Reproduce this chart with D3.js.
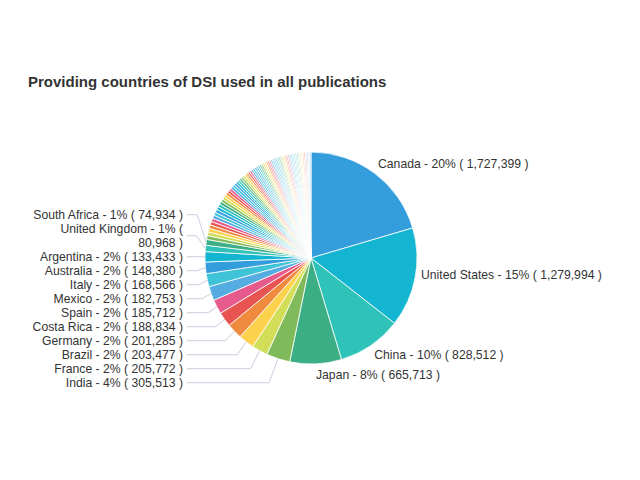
<!DOCTYPE html>
<html lang="en">
<head>
<meta charset="UTF-8">
<title>Providing countries of DSI</title>
<script src="https://cdn.jsdelivr.net/npm/d3@7/dist/d3.min.js"></script>
<style>
    body { margin: 0; background: #fff; }
    text { font-family: "Liberation Sans", Arial, sans-serif; }
</style>
</head>
<body>
<svg id="chart" width="640" height="480"></svg>
<script>
    // labelled countries, largest first
    var countries = ["Canada", "United States", "China", "Japan", "India", "France", "Brazil",
        "Germany", "Costa Rica", "Spain", "Mexico", "Italy", "Australia", "Argentina",
        "United Kingdom", "South Africa"];
    var values = [1727399, 1279994, 828512, 665713, 305513, 205772, 203477,
        201285, 188834, 185712, 182753, 168566, 148380, 133433, 80968, 74934];

    // remaining (unlabelled) providing countries
    var otherValues = [
        49600, 48300, 47000, 45800, 44600, 43500, 42400, 41300, 40300, 39300,
        38400, 37500, 36600, 35800, 35000, 34200, 33400, 32700, 32000, 31300,
        30600, 30000, 29400, 28800, 28200, 27700, 27200, 26700, 26200, 25700,
        25300, 24900, 24500, 24100, 23700, 23400, 23100, 22800, 22500, 22200, 21900,
        21600, 21400, 21200, 21000, 20800, 20650, 20500, 20350, 20200, 20050,
        19900, 19780, 19660, 19540, 19420, 19300, 19190, 19080, 18970, 18860,
        18750, 18650, 18550, 18450, 18360, 18270, 18180, 18090
    ];

    var palette = ["#349ddc", "#13b5d0", "#2ec2b9", "#3bae85", "#80bb5b", "#d3de58",
        "#fcd24c", "#ef8a3e", "#e8544f", "#e65b8c", "#54ace1", "#3fc3d7"];

    var cx = 311, cy = 258, r = 106, labelR = 112;
    var leftX = 183, lineH = 14, fontSize = 12.2;

    var data = values.map(function(v, i) { return { name: countries[i], value: v }; })
        .concat(otherValues.map(function(v) { return { name: null, value: v }; }));
    var total = d3.sum(data, function(d) { return d.value; });
    var fmt = d3.format(",");

    // palette repeats; later rounds get paler
    function sliceColor(i) {
        var c = palette[i % palette.length];
        var cycle = Math.floor(i / palette.length);
        var t = Math.min(0.6, Math.max(0, cycle - 2) * 0.15);
        return d3.interpolateRgb(c, "#ffffff")(t);
    }

    var svg = d3.select("#chart");

    svg.append("text")
        .attr("x", 28)
        .attr("y", 87)
        .attr("font-size", 15)
        .attr("font-weight", "bold")
        .attr("fill", "#333")
        .text("Providing countries of DSI used in all publications");

    var pie = d3.pie().sort(null).value(function(d) { return d.value; });
    var arcs = pie(data);
    var arc = d3.arc().innerRadius(0).outerRadius(r);

    var g = svg.append("g").attr("transform", "translate(" + cx + "," + cy + ")");

    g.selectAll("path.slice")
        .data(arcs)
        .enter()
        .append("path")
        .attr("class", "slice")
        .attr("d", arc)
        .attr("fill", function(d, i) { return sliceColor(i); })
        .attr("stroke", "#fff")
        .attr("stroke-width", 0.8);

    function midAngle(d) { return (d.startAngle + d.endAngle) / 2; }

    var labelled = arcs.filter(function(d) { return d.data.name; });
    labelled.forEach(function(d) {
        var a = midAngle(d);
        d.text = d.data.name + " - " + Math.round(d.value / total * 100) + "% ( " + fmt(d.value) + " )";
        d.px = cx + r * Math.sin(a);
        d.py = cy - r * Math.cos(a);
        d.lx = cx + labelR * Math.sin(a);
        d.ly = cy - labelR * Math.cos(a);
        d.left = a > Math.PI;
    });

    // right side labels, placed next to their slice
    var right = labelled.filter(function(d) { return !d.left; });
    svg.selectAll("text.rlabel")
        .data(right)
        .enter()
        .append("text")
        .attr("class", "rlabel")
        .attr("x", function(d) { return d.lx; })
        .attr("y", function(d) {
            return Math.cos(midAngle(d)) > -0.5 ? d.ly : d.ly + 9;
        })
        .attr("font-size", fontSize)
        .attr("fill", "#333")
        .text(function(d) { return d.text; });

    // left side labels: right aligned column, wrapped and stacked
    var left = labelled.filter(function(d) { return d.left; });
    var measure = svg.append("text").attr("font-size", fontSize);
    function wrap(str, maxW) {
        var words = str.split(" "), lines = [], cur = "";
        words.forEach(function(w) {
            var test = cur ? cur + " " + w : w;
            measure.text(test);
            if (cur && measure.node().getComputedTextLength() > maxW) {
                lines.push(cur);
                cur = w;
            } else {
                cur = test;
            }
        });
        lines.push(cur);
        return lines;
    }
    left.forEach(function(d) {
        d.lines = wrap(d.text, leftX - 28);
        d.h = d.lines.length * lineH;
    });
    measure.remove();

    left.sort(function(a, b) { return a.ly - b.ly; });
    var anchor = d3.minIndex(left, function(d) { return Math.abs(d.ly - cy); });
    left[anchor].y = left[anchor].ly;
    for (var i = anchor + 1; i < left.length; i++) {
        left[i].y = Math.max(left[i].ly, left[i - 1].y + (left[i - 1].h + left[i].h) / 2);
    }
    for (var j = anchor - 1; j >= 0; j--) {
        left[j].y = Math.min(left[j].ly, left[j + 1].y - (left[j + 1].h + left[j].h) / 2);
    }

    var line = d3.line();
    svg.selectAll("path.leader")
        .data(left)
        .enter()
        .append("path")
        .attr("class", "leader")
        .attr("d", function(d) {
            return line([[d.px, d.py], [d.px - 9, d.y], [leftX + 4, d.y]]);
        })
        .attr("fill", "none")
        .attr("stroke", "#c8cedd")
        .attr("stroke-width", 1);

    var lt = svg.selectAll("text.llabel")
        .data(left)
        .enter()
        .append("text")
        .attr("class", "llabel")
        .attr("text-anchor", "end")
        .attr("font-size", fontSize)
        .attr("fill", "#333");

    lt.each(function(d) {
        var t = d3.select(this);
        var y0 = d.y - (d.lines.length - 1) * lineH / 2;
        d.lines.forEach(function(s, k) {
            t.append("tspan")
                .attr("x", leftX)
                .attr("y", y0 + k * lineH)
                .attr("dy", "0.35em")
                .text(s);
        });
    });
</script>
</body>
</html>
